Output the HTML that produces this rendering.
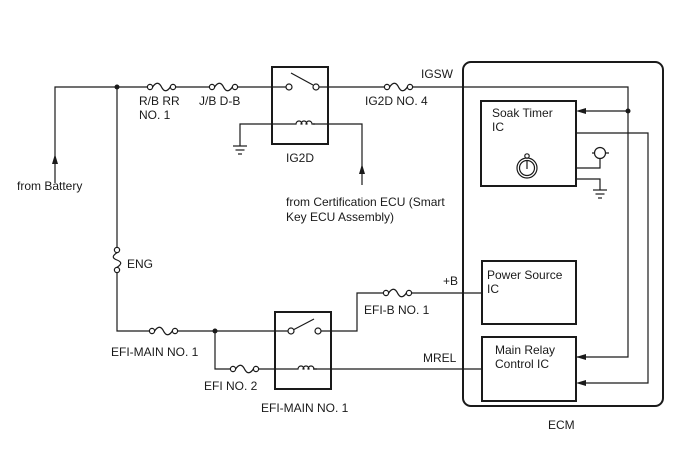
<!DOCTYPE html>
<html><head><meta charset="utf-8"><style>
html,body{margin:0;padding:0;background:#fff;}
svg{display:block;}
text{font-family:"Liberation Sans",sans-serif;font-size:12px;fill:#1a1a1a;}
</style></head><body>
<svg width="688" height="463" viewBox="0 0 688 463" xmlns="http://www.w3.org/2000/svg">
<defs>
<g id="fuse"><circle cx="0" cy="0" r="2.6" fill="#fff" stroke="#1a1a1a" stroke-width="1.2"/><circle cx="23" cy="0" r="2.6" fill="#fff" stroke="#1a1a1a" stroke-width="1.2"/><path d="M2.6 0 C6 -5 9 -5 11.5 0 C14 5 17 5 20.4 0" fill="none" stroke="#1a1a1a" stroke-width="1.3"/></g>
<g id="coil"><path d="M0 0 h3 a3 3 0 0 1 6 0 a3 3 0 0 1 -1 0 a3 3 0 0 1 6 0 a3 3 0 0 1 -1 0 a3 3 0 0 1 6 0 h3" fill="none" stroke="#1a1a1a" stroke-width="1.2"/></g>
<g id="gnd" stroke="#1a1a1a" stroke-width="1.2"><line x1="-7" y1="0" x2="7" y2="0"/><line x1="-4.5" y1="4" x2="4.5" y2="4"/><line x1="-2" y1="8" x2="2" y2="8"/></g>
</defs>
<g stroke="#1a1a1a" stroke-width="1.2" fill="none">
<path d="M55 183 V87 H148"/>
<line x1="175" y1="87" x2="211" y2="87"/>
<line x1="237" y1="87" x2="286" y2="87"/>
<line x1="318" y1="87" x2="386" y2="87"/>
<path d="M412 87 H628 V357 H576"/>
<rect x="272" y="67" width="56" height="77" stroke-width="2"/>
<line x1="291" y1="73" x2="313" y2="85"/>
<path d="M240 146 V124 H293"/>
<path d="M313 124 H362 V185"/>
<path d="M117 87 V247"/>
<path d="M117 272 V331 H150"/>
<line x1="177" y1="331" x2="289" y2="331"/>
<path d="M215 331 V369 H231"/>
<line x1="257" y1="369" x2="295" y2="369"/>
<line x1="313" y1="369" x2="481" y2="369"/>
<rect x="275" y="312" width="56" height="77" stroke-width="2"/>
<line x1="293" y1="330" x2="314" y2="319"/>
<path d="M320 331 H357 V293 H384"/>
<line x1="412" y1="293" x2="481" y2="293"/>
<rect x="463" y="62" width="200" height="344" rx="8" stroke-width="2"/>
<rect x="481" y="101" width="95" height="85" stroke-width="2"/>
<rect x="482" y="261" width="94" height="63" stroke-width="2"/>
<rect x="482" y="337" width="94" height="64" stroke-width="2"/>
<line x1="628" y1="111" x2="582" y2="111"/>
<path d="M576 133 H648 V383 H582"/>
<path d="M576 168 H600 V159"/>
<line x1="592" y1="153" x2="609" y2="153"/>
<circle cx="600" cy="153" r="5.5" fill="#fff"/>
<path d="M576 179 H600 V190"/>
<circle cx="527" cy="168" r="10"/>
<circle cx="527" cy="168" r="7.5"/>
<circle cx="527" cy="156" r="2.2"/>
<line x1="527" y1="161" x2="527" y2="169"/>
</g>
<g stroke="#1a1a1a" stroke-width="1.2" fill="#fff">
<circle cx="117" cy="250" r="2.6"/><circle cx="117" cy="270" r="2.6"/>
<path d="M117 252.6 C112 256 112 258 117 260 C122 262 122 264 117 267.4" fill="none"/>
<circle cx="289" cy="87" r="3"/><circle cx="316" cy="87" r="3"/>
<circle cx="291" cy="331" r="3"/><circle cx="318" cy="331" r="3"/>
</g>
<use href="#fuse" x="150" y="87"/>
<use href="#fuse" x="212" y="87"/>
<use href="#fuse" x="387" y="87"/>
<use href="#fuse" x="152" y="331"/>
<use href="#fuse" x="233" y="369"/>
<use href="#fuse" x="386" y="293"/>
<use href="#coil" x="293" y="124"/>
<use href="#coil" x="295" y="369"/>
<use href="#gnd" x="240" y="146"/>
<use href="#gnd" x="600" y="190"/>
<g fill="#1a1a1a">
<polygon points="55,154 52,164 58,164"/>
<polygon points="362,164 359,174 365,174"/>
<polygon points="576,111 586,108 586,114"/>
<polygon points="576,357 586,354 586,360"/>
<polygon points="576,383 586,380 586,386"/>
<circle cx="117" cy="87" r="2.5"/>
<circle cx="215" cy="331" r="2.5"/>
<circle cx="628" cy="111" r="2.5"/>
</g>
<text x="139" y="105">R/B RR</text>
<text x="139" y="119">NO. 1</text>
<text x="199" y="105">J/B D-B</text>
<text x="365" y="105">IG2D NO. 4</text>
<text x="421" y="78">IGSW</text>
<text x="286" y="162">IG2D</text>
<text x="17" y="190">from Battery</text>
<text x="286" y="206">from Certification ECU (Smart</text>
<text x="286" y="221">Key ECU Assembly)</text>
<text x="127" y="268">ENG</text>
<text x="111" y="356">EFI-MAIN NO. 1</text>
<text x="204" y="390">EFI NO. 2</text>
<text x="261" y="412">EFI-MAIN NO. 1</text>
<text x="364" y="314">EFI-B NO. 1</text>
<text x="443" y="285">+B</text>
<text x="423" y="362">MREL</text>
<text x="492" y="117">Soak Timer</text>
<text x="492" y="131">IC</text>
<text x="487" y="279">Power Source</text>
<text x="487" y="293">IC</text>
<text x="495" y="354">Main Relay</text>
<text x="495" y="368">Control IC</text>
<text x="548" y="429">ECM</text>
</svg>
</body></html>
